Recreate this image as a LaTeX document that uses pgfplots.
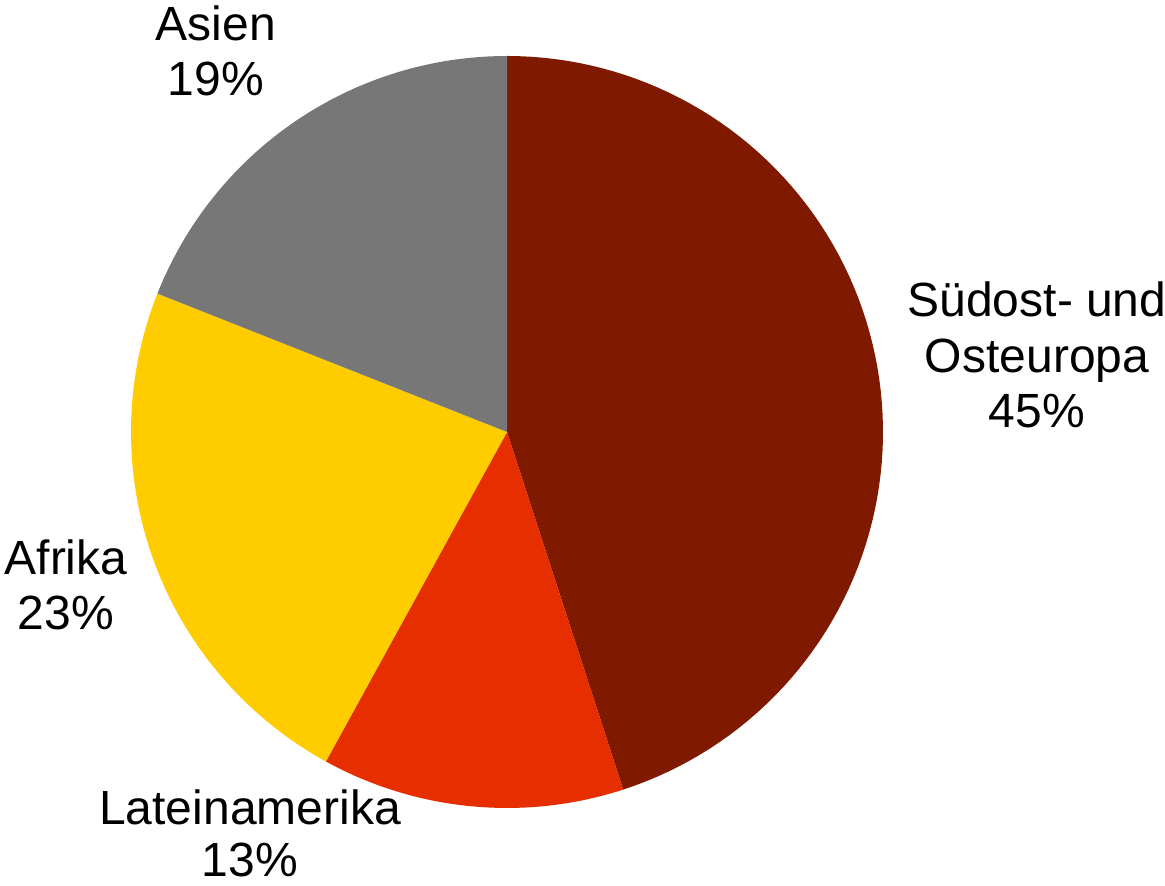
\documentclass[border=0pt]{standalone}
\usepackage{fontspec}
\setmainfont{Liberation Sans}
\usepackage{pgfplots}
\pgfplotsset{compat=1.18}
\definecolor{cSued}{RGB}{127,26,0}
\definecolor{cLat}{RGB}{230,46,0}
\definecolor{cAfr}{RGB}{255,204,0}
\definecolor{cAsi}{RGB}{119,119,119}
% shares in percent
\def\sSued{45}
\def\sLat{13}
\def\sAfr{23}
\def\sAsi{19}
\pgfmathsetmacro{\aZero}{90}
\pgfmathsetmacro{\aOne}{\aZero-3.6*\sSued}
\pgfmathsetmacro{\aTwo}{\aOne-3.6*\sLat}
\pgfmathsetmacro{\aThree}{\aTwo-3.6*\sAfr}
\pgfmathsetmacro{\aFour}{\aThree-3.6*\sAsi}
\tikzset{lbl/.style={anchor=base, inner sep=0pt, font=\fontsize{24}{27.5}\selectfont}}
\begin{document}
\begin{tikzpicture}
\path[use as bounding box] (0,0) rectangle (582.5pt,443pt);
\begin{axis}[
  at={(0,0)}, anchor=south west,
  width=582.5pt, height=443pt, scale only axis,
  xmin=0, xmax=1165, ymin=0, ymax=886,
  hide axis, clip=false,
]
\addplot[fill=cSued, draw=none, domain=\aOne:\aZero, samples=90, variable=\t] ({507+376*cos(\t)},{454+376*sin(\t)}) -- (axis cs:507,454) -- cycle;
\addplot[fill=cLat, draw=none, domain=\aTwo:\aOne, samples=40, variable=\t] ({507+376*cos(\t)},{454+376*sin(\t)}) -- (axis cs:507,454) -- cycle;
\addplot[fill=cAfr, draw=none, domain=\aThree:\aTwo, samples=60, variable=\t] ({507+376*cos(\t)},{454+376*sin(\t)}) -- (axis cs:507,454) -- cycle;
\addplot[fill=cAsi, draw=none, domain=\aFour:\aThree, samples=50, variable=\t] ({507+376*cos(\t)},{454+376*sin(\t)}) -- (axis cs:507,454) -- cycle;
% labels
\node[lbl] at (axis cs:216,845) {Asien};
\node[lbl] at (axis cs:216,790) {19\%};
\node[lbl] at (axis cs:1037,569) {Südost- und};
\node[lbl] at (axis cs:1037,513) {Osteuropa};
\node[lbl] at (axis cs:1037,458) {45\%};
\node[lbl] at (axis cs:66,311) {Afrika};
\node[lbl] at (axis cs:66,256) {23\%};
\node[lbl] at (axis cs:250,61) {Lateinamerika};
\node[lbl] at (axis cs:250,9) {13\%};
\end{axis}
\end{tikzpicture}
\end{document}
